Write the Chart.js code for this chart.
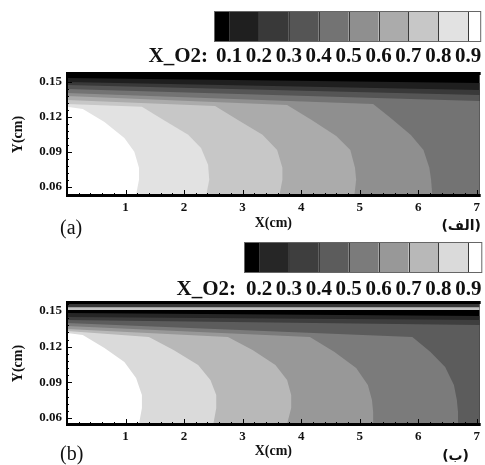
<!DOCTYPE html>
<html>
<head>
<meta charset="utf-8">
<script src="https://cdn.jsdelivr.net/npm/chart.js@4.4.1/dist/chart.umd.min.js"></script>
<style>
  html, body { margin: 0; padding: 0; background: #fff; }
  #wrap { position: relative; width: 485px; height: 465px; overflow: hidden; }
  #wrap canvas { position: absolute; left: 0; }
</style>
</head>
<body>
<div id="wrap">
  <canvas id="chart-a" width="485" height="240" style="top:0"></canvas>
  <canvas id="chart-b" width="485" height="225" style="top:240px"></canvas>
</div>
<script>
'use strict';

/* ── AXES ── */
const X_MIN = 0;
const X_MAX = 7.05;
const xTicks = [1, 2, 3, 4, 5, 6, 7];
const yTicks = [0.06, 0.09, 0.12, 0.15];

/* ── PANEL (a) : X_O2 iso-lines, each one bounds the region above its level ── */
const levelsA     = [0.1, 0.2, 0.3, 0.4, 0.5, 0.6, 0.7, 0.8, 0.9];
const bandColorsA = ['#000000', '#1f1f1f', '#393939', '#555555', '#737373',
                     '#8f8f8f', '#ababab', '#c7c7c7', '#e2e2e2', '#ffffff'];
const yRangeA = [0.053, 0.1568];

const isoA_01 = [[0, 0.1534], [7.05, 0.1491]];
const isoA_02 = [[0, 0.1500], [7.05, 0.1431]];
const isoA_03 = [[0, 0.1474], [7.05, 0.1388]];
const isoA_04 = [[0, 0.1440], [7.05, 0.1337]];
const isoA_05 = [[0, 0.1405], [5.23, 0.1311], [5.53, 0.1191], [5.87, 0.1046], [6.09, 0.0917], [6.19, 0.0763], [6.22, 0.0660], [6.24, 0.053]];
const isoA_06 = [[0, 0.1380], [3.76, 0.1303], [4.18, 0.1174], [4.60, 0.1037], [4.84, 0.0917], [4.92, 0.0763], [4.94, 0.0660], [4.91, 0.053]];
const isoA_07 = [[0, 0.1345], [2.53, 0.1294], [2.92, 0.1174], [3.34, 0.1046], [3.59, 0.0917], [3.68, 0.0763], [3.68, 0.0660], [3.63, 0.053]];
const isoA_08 = [[0, 0.1311], [1.28, 0.1286], [1.65, 0.1174], [2.07, 0.1046], [2.29, 0.0934], [2.41, 0.0789], [2.43, 0.0660], [2.38, 0.053]];
const isoA_09 = [[0, 0.1286], [0.27, 0.1268], [0.64, 0.1157], [0.98, 0.1020], [1.15, 0.0900], [1.23, 0.0763], [1.23, 0.0660], [1.18, 0.053]];

/* ── PANEL (b) ── */
const levelsB     = [0.2, 0.3, 0.4, 0.5, 0.6, 0.7, 0.8, 0.9];
const bandColorsB = ['#000000', '#262626', '#3e3e3e', '#5c5c5c', '#7b7b7b',
                     '#989898', '#b8b8b8', '#dadada', '#ffffff'];
const yRangeB = [0.055, 0.1567];

const isoB_02 = [[0, 0.1483], [7.05, 0.1458]];
const isoB_03 = [[0, 0.1449], [7.05, 0.1424]];
const isoB_04 = [[0, 0.1424], [7.05, 0.1382]];
const isoB_05 = [[0, 0.1399], [5.90, 0.1281], [6.21, 0.1155], [6.46, 0.1029], [6.61, 0.0878], [6.66, 0.0751], [6.68, 0.0650], [6.68, 0.055]];
const isoB_06 = [[0, 0.1374], [4.15, 0.1281], [4.57, 0.1155], [4.94, 0.1021], [5.14, 0.0878], [5.21, 0.0751], [5.23, 0.0650], [5.23, 0.055]];
const isoB_07 = [[0, 0.1349], [2.75, 0.1281], [3.17, 0.1172], [3.56, 0.1046], [3.76, 0.0920], [3.83, 0.0793], [3.83, 0.0684], [3.76, 0.055]];
const isoB_08 = [[0, 0.1332], [1.40, 0.1281], [1.82, 0.1172], [2.24, 0.1046], [2.45, 0.0920], [2.55, 0.0793], [2.55, 0.0684], [2.50, 0.055]];
const isoB_09 = [[0, 0.1315], [0.27, 0.1298], [0.64, 0.1189], [0.98, 0.1071], [1.18, 0.0936], [1.28, 0.0793], [1.28, 0.0684], [1.23, 0.055]];

/* thin strips along the upper wall of panel (b), region above each line */
const wallB_light = [[0, 0.1508], [7.05, 0.1508]];
const wallB_dark  = [[0, 0.1531], [7.05, 0.1531]];
const wallColorsB = ['#c2c2c2', '#383838'];

const FONT = "'Liberation Serif', 'Times New Roman', serif";

/* ── POLYGONS ── */
// region below / left of an iso-line, closed through the bottom corners
function closeBelow(pts, yMin) {
  const poly = pts.map(([x, y]) => ({ x, y }));
  const last = pts[pts.length - 1];
  if (last[0] >= X_MAX) poly.push({ x: X_MAX, y: yMin });
  poly.push({ x: X_MIN, y: yMin });
  poly.push({ x: pts[0][0], y: pts[0][1] });
  return poly;
}

// region above a full-width line, closed through the top corners
function closeAbove(pts, yMax) {
  const poly = pts.map(([x, y]) => ({ x, y }));
  poly.push({ x: X_MAX, y: yMax }, { x: X_MIN, y: yMax }, { x: pts[0][0], y: pts[0][1] });
  return poly;
}

function region(data, color) {
  return {
    data,
    backgroundColor: color,
    borderColor: 'transparent',
    borderWidth: 0,
    fill: 'shape',
    pointRadius: 0,
    tension: 0,
  };
}

/* ── PLUGINS ── */
const backgroundPlugin = {
  id: 'plotBackground',
  beforeDatasetsDraw(chart, args, o) {
    const { ctx, chartArea: a } = chart;
    ctx.save();
    ctx.fillStyle = o.color;
    ctx.fillRect(a.left, a.top, a.right - a.left, a.bottom - a.top);
    ctx.restore();
  },
};

const framePlugin = {
  id: 'frame',
  afterDatasetsDraw(chart) {
    const { ctx, chartArea: a, scales: { x, y } } = chart;
    ctx.save();
    ctx.strokeStyle = '#000';
    ctx.lineWidth = 1;
    ctx.beginPath();
    // ticks point into the plot
    xTicks.forEach(v => {
      const px = Math.round(x.getPixelForValue(v)) + 0.5;
      ctx.moveTo(px, a.bottom); ctx.lineTo(px, a.bottom - 5);
    });
    for (let k = 1; k * 0.2 < X_MAX; k++) {
      const px = Math.round(x.getPixelForValue(k * 0.2)) + 0.5;
      ctx.moveTo(px, a.bottom); ctx.lineTo(px, a.bottom - 2);
    }
    yTicks.forEach(v => {
      const py = Math.round(y.getPixelForValue(v)) + 0.5;
      ctx.moveTo(a.left, py); ctx.lineTo(a.left + 5, py);
    });
    for (let k = 9; k * 0.006 < y.max; k++) {
      const py = Math.round(y.getPixelForValue(k * 0.006)) + 0.5;
      ctx.moveTo(a.left, py); ctx.lineTo(a.left + 2, py);
    }
    ctx.stroke();

    ctx.fillStyle = '#000';
    ctx.fillRect(a.left - 1, a.top - 2, a.right - a.left + 2, 3);
    ctx.fillRect(a.left - 1, a.bottom - 1, a.right - a.left + 2, 3);
    ctx.fillRect(a.left - 1, a.top - 2, 2, a.bottom - a.top + 4);
    ctx.restore();
  },
};

const colorbarPlugin = {
  id: 'colorbar',
  afterDraw(chart, args, o) {
    const ctx = chart.ctx;
    const n = o.levels.length;
    const edges = [o.x0 - o.capL];
    for (let i = 0; i < n; i++) edges.push(o.x0 + i * o.cellW);
    edges.push(o.x0 + (n - 1) * o.cellW + o.capR);

    ctx.save();
    for (let i = 0; i < o.colors.length; i++) {
      ctx.fillStyle = o.colors[i];
      ctx.fillRect(edges[i], o.top, edges[i + 1] - edges[i], o.height);
    }
    ctx.strokeStyle = '#3a3a3a';
    ctx.lineWidth = 1;
    ctx.beginPath();
    for (let i = 1; i < edges.length - 1; i++) {
      const ex = Math.round(edges[i]) + 0.5;
      ctx.moveTo(ex, o.top); ctx.lineTo(ex, o.top + o.height);
    }
    ctx.stroke();
    ctx.strokeStyle = '#666';
    ctx.strokeRect(edges[0] + 0.5, o.top + 0.5, edges[edges.length - 1] - edges[0], o.height);

    ctx.fillStyle = '#111';
    ctx.font = 'bold 21px ' + FONT;
    ctx.textBaseline = 'middle';
    ctx.textAlign = 'center';
    o.levels.forEach((v, i) => ctx.fillText(v.toFixed(1), o.x0 + i * o.cellW, o.labelY));
    ctx.textAlign = 'right';
    ctx.fillText('X_O2:', o.titleRight, o.labelY);
    ctx.restore();
  },
};

const panelTextPlugin = {
  id: 'panelText',
  afterDraw(chart, args, o) {
    const ctx = chart.ctx;
    ctx.save();
    ctx.fillStyle = '#111';
    ctx.textBaseline = 'middle';
    ctx.textAlign = 'left';
    ctx.font = '20px ' + FONT;
    ctx.fillText(o.label, o.labelX, o.labelY);
    ctx.textAlign = 'right';
    ctx.font = "bold 14px 'DejaVu Sans', " + FONT;
    ctx.fillText(o.tag, o.tagX, o.tagY);
    ctx.restore();
  },
};

/* ── BUILD ── */
function buildPanel(id, cfg) {
  const datasets = cfg.isolines.map((pts, i) => region(closeBelow(pts, cfg.yRange[0]), cfg.bandColors[i + 1]));
  (cfg.walls || []).forEach((pts, i) => datasets.push(region(closeAbove(pts, cfg.yRange[1]), cfg.wallColors[i])));
  // first dataset at the bottom of the stack
  datasets.forEach((d, i) => { d.order = datasets.length - i; });

  const tickFont = { family: FONT, size: 13, weight: 'bold' };
  const titleFont = { family: FONT, size: 14, weight: 'bold' };

  return new Chart(document.getElementById(id), {
    type: 'line',
    data: { datasets },
    options: {
      responsive: false,
      animation: false,
      events: [],
      layout: { padding: { top: cfg.plotTop, left: 0, right: 0, bottom: 0 } },
      plugins: {
        legend: { display: false },
        tooltip: { enabled: false },
        plotBackground: { color: cfg.bandColors[0] },
        colorbar: cfg.colorbar,
        panelText: cfg.text,
      },
      scales: {
        x: {
          type: 'linear',
          min: X_MIN,
          max: X_MAX,
          afterBuildTicks: s => { s.ticks = xTicks.map(v => ({ value: v })); },
          afterFit: s => { s.height = cfg.xAxisHeight; },
          grid: { display: false, drawTicks: false },
          border: { display: false },
          ticks: { color: '#111', font: tickFont, padding: 5, autoSkip: false, maxRotation: 0,
                   callback: v => String(v) },
          title: { display: true, text: 'X(cm)', color: '#111', font: titleFont,
                   padding: { top: 0, bottom: cfg.xTitlePad } },
        },
        y: {
          type: 'linear',
          min: cfg.yRange[0],
          max: cfg.yRange[1],
          afterBuildTicks: s => { s.ticks = yTicks.map(v => ({ value: v })); },
          afterFit: s => { s.width = 67; },
          grid: { display: false, drawTicks: false },
          border: { display: false },
          ticks: { color: '#111', font: tickFont, padding: 5, autoSkip: false,
                   callback: v => v.toFixed(2) },
          title: { display: true, text: 'Y(cm)', color: '#111', font: titleFont,
                   padding: { top: 9.5, bottom: 0 } },
        },
      },
    },
    plugins: [backgroundPlugin, framePlugin, colorbarPlugin, panelTextPlugin],
  });
}

buildPanel('chart-a', {
  isolines: [isoA_01, isoA_02, isoA_03, isoA_04, isoA_05, isoA_06, isoA_07, isoA_08, isoA_09],
  bandColors: bandColorsA,
  yRange: yRangeA,
  plotTop: 74,
  xAxisHeight: 45,
  xTitlePad: 8.5,
  colorbar: { levels: levelsA, colors: bandColorsA, x0: 229, cellW: 29.9, capL: 15, capR: 12,
              top: 11, height: 30, labelY: 57, titleRight: 208 },
  text: { label: '(a)', labelX: 60, labelY: 229, tag: '(الف)', tagX: 481, tagY: 226 },
});

buildPanel('chart-b', {
  isolines: [isoB_02, isoB_03, isoB_04, isoB_05, isoB_06, isoB_07, isoB_08, isoB_09],
  walls: [wallB_light, wallB_dark],
  wallColors: wallColorsB,
  bandColors: bandColorsB,
  yRange: yRangeB,
  plotTop: 63,
  xAxisHeight: 41,
  xTitlePad: 5.5,
  colorbar: { levels: levelsB, colors: bandColorsB, x0: 259, cellW: 29.9, capL: 15, capR: 13,
              top: 2, height: 30, labelY: 50, titleRight: 236 },
  text: { label: '(b)', labelX: 60, labelY: 215, tag: '(ب)', tagX: 469, tagY: 216 },
});
</script>
</body>
</html>
